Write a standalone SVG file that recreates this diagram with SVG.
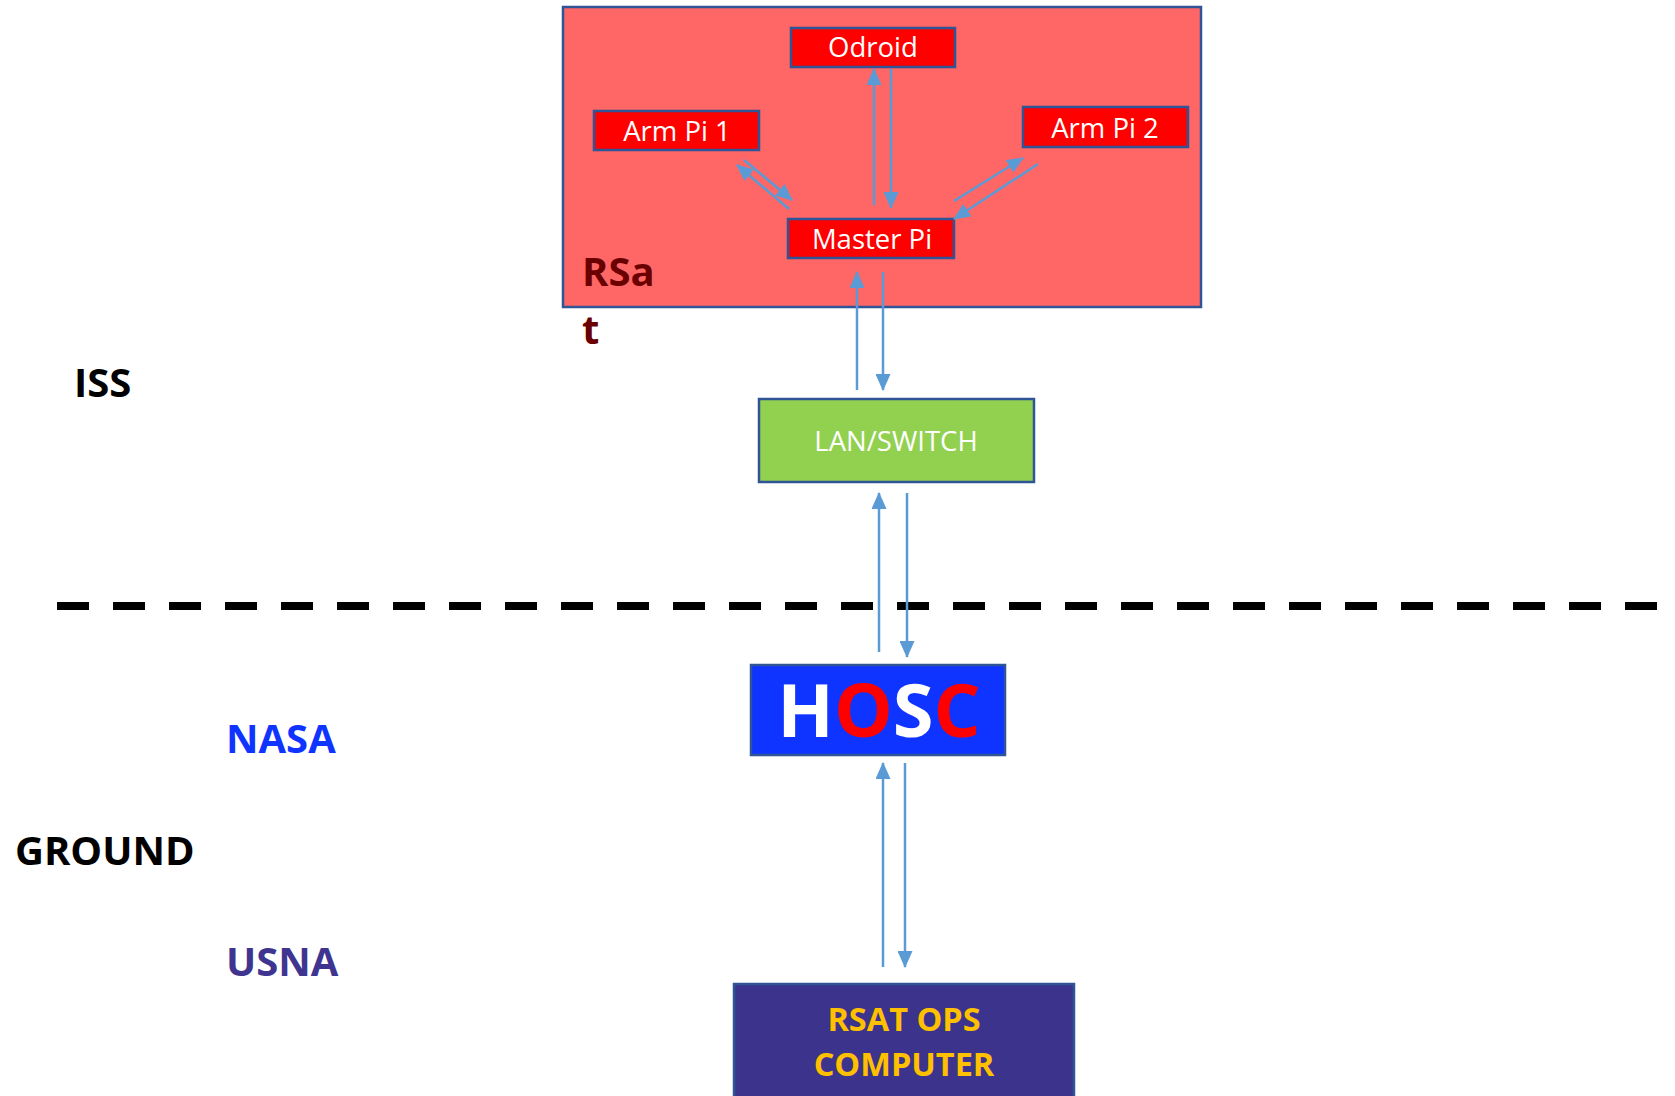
<svg xmlns="http://www.w3.org/2000/svg" width="1675" height="1096" viewBox="0 0 1675 1096">
<style>
.box{stroke:#2F5597;stroke-width:2.5}
.red{fill:#FF0000}
.lbl{font-family:"Open Sans","Noto Sans",sans-serif;fill:#FFFFFF;font-size:27.5px;text-anchor:middle}
.big{font-family:"Open Sans","Noto Sans",sans-serif;font-weight:bold;font-size:40px}
.bl{font-family:"Open Sans","Noto Sans",sans-serif;font-weight:bold;font-size:32.5px;fill:#FFC000;text-anchor:middle}
.con{stroke:#5B9BD5;stroke-width:2.5;fill:none;marker-end:url(#ah)}
</style>
<defs>
<marker id="ah" markerUnits="userSpaceOnUse" markerWidth="17" markerHeight="15" refX="16" refY="7.5" orient="auto">
<path d="M0,0 L17,7.5 L0,15 Z" fill="#5B9BD5"/>
</marker>
</defs>
<rect width="1675" height="1096" fill="#FFFFFF"/>

<g id="rsat">
<rect x="563" y="7" width="638" height="300" fill="#FF6666" class="box"/>
<text x="582" y="286" class="big" fill="#6B0000">RSa</text>
<text x="582" y="344" class="big" fill="#6B0000">t</text>
</g>
<g id="odroid">
<rect x="791" y="28" width="164" height="39" class="box red"/>
<text x="873" y="57" class="lbl">Odroid</text>
</g>
<g id="armpi1">
<rect x="594" y="111" width="165" height="39" class="box red"/>
<text x="677" y="141" class="lbl">Arm Pi 1</text>
</g>
<g id="armpi2">
<rect x="1023" y="107" width="165" height="40" class="box red"/>
<text x="1105" y="138" class="lbl">Arm Pi 2</text>
</g>
<g id="masterpi">
<rect x="788" y="219" width="166" height="39" class="box red"/>
<text x="872" y="249" class="lbl">Master Pi</text>
</g>
<g id="iss"><text x="74" y="397" class="big" fill="#000000">ISS</text></g>
<g id="lanswitch">
<rect x="759" y="399" width="275" height="83" fill="#92D050" class="box"/>
<text x="896" y="451" class="lbl">LAN/SWITCH</text>
</g>
<g id="divider">
<line x1="57" y1="606" x2="1668" y2="606" stroke="#000000" stroke-width="8" stroke-dasharray="32 24"/>
</g>
<g id="hosc">
<rect x="751" y="665" width="254" height="90" fill="#1034FF" class="box"/>
<text x="879" y="737" font-family="'Open Sans','Noto Sans',sans-serif" font-weight="bold" font-size="74" text-anchor="middle"><tspan fill="#FFFFFF">H</tspan><tspan fill="#FF0000">O</tspan><tspan fill="#FFFFFF">S</tspan><tspan fill="#FF0000">C</tspan></text>
</g>
<g id="nasa"><text x="226" y="753" class="big" fill="#1034FF">NASA</text></g>
<g id="ground"><text x="15" y="865" class="big" fill="#000000" font-size="41">GROUND</text></g>
<g id="usna"><text x="226" y="976" class="big" fill="#3F3590">USNA</text></g>
<g id="rsatops">
<rect x="734" y="984" width="340" height="115" fill="#3C338C" class="box"/>
<text x="904" y="1031" class="bl">RSAT OPS</text>
<text x="904" y="1076" class="bl">COMPUTER</text>
</g>

<g id="connectors">
<line x1="874" y1="205" x2="874" y2="69" class="con"/>
<line x1="891" y1="69" x2="891" y2="208" class="con"/>
<line x1="744" y1="160" x2="792" y2="200" class="con"/>
<line x1="789" y1="209" x2="737" y2="165" class="con"/>
<line x1="954" y1="201" x2="1023" y2="158" class="con"/>
<line x1="1038" y1="164" x2="954" y2="219" class="con"/>
<line x1="857" y1="390" x2="857" y2="272" class="con"/>
<line x1="883" y1="272" x2="883" y2="390" class="con"/>
<line x1="879" y1="652" x2="879" y2="493" class="con"/>
<line x1="907" y1="493" x2="907" y2="657" class="con"/>
<line x1="883" y1="967" x2="883" y2="763" class="con"/>
<line x1="905" y1="763" x2="905" y2="967" class="con"/>
</g>
</svg>
